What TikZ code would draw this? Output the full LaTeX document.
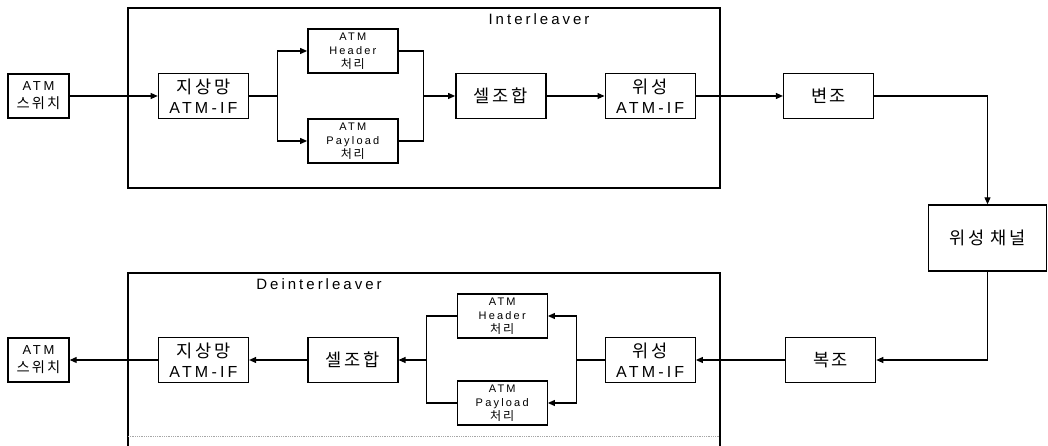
\documentclass[tikz,border=0pt]{standalone}
\usepackage{fontspec}
\usepackage{tikz}
\usetikzlibrary{arrows.meta,calc,positioning}
\setmainfont{Liberation Sans}[LetterSpace=20]
\newfontfamily\kr{Noto Sans CJK KR}[LetterSpace=15, Scale=1.1]
\newcommand{\hg}[1]{{\kr #1}}
\tikzset{
  >={Triangle[length=7pt, width=6pt]},
  flow/.style={->, line width=1.1pt, draw=black},
  wire/.style={line width=1.1pt, draw=black},
  bigbox/.style={
    draw=black,
    line width=1.4pt,
    minimum width=90pt,
    minimum height=45pt,
    align=center,
    inner sep=2pt,
    font=\fontsize{16}{20}\selectfont
  },
  smallbox/.style={bigbox, minimum height=44pt, font=\fontsize{11}{14}\selectfont},
  switchbox/.style={bigbox, minimum width=61pt, minimum height=44pt, font=\fontsize{13}{18}\selectfont},
  chanbox/.style={bigbox, minimum width=118pt, minimum height=66pt},
  frame/.style={line width=1.4pt, draw=black},
  frametitle/.style={font=\fontsize{15}{18}\selectfont}
}
\begin{document}
\begin{tikzpicture}[x=1pt, y=1pt]
  \useasboundingbox (0,0) rectangle (1048,446);

  \draw[frame] (128,438) rectangle (720,258);
  \node[frametitle] (intertitle) at (539,427) {Interleaver};
  \draw[frame] (128,0) |- (720,173) -- (720,0);
  \draw[line width=0.8pt, draw=black!35, densely dotted] (128,10) -- (720,10);
  \node[frametitle] (deintertitle) at (319,162) {Deinterleaver};

  \node[switchbox] (swtop) at (38.5,350) {ATM\\\hg{스위치}};
  \node[bigbox, right=88pt of swtop] (landtop) {\hg{지상망}\\ATM-IF};
  \node[smallbox, right=58pt of landtop, yshift=45pt] (hdrtop) {ATM\\Header\\\hg{처리}};
  \node[smallbox, right=58pt of landtop, yshift=-45pt] (pldtop) {ATM\\Payload\\\hg{처리}};
  \node[bigbox, right=206pt of landtop] (celltop) {\hg{셀조합}};
  \node[bigbox, right=58pt of celltop] (sattop) {\hg{위성}\\ATM-IF};
  \node[bigbox, right=87pt of sattop] (modtop) {\hg{변조}};
  \node[chanbox] (chan) at (987.5,208) {\hg{위성 채널}};

  \coordinate (splittop) at ($(landtop.east)+(28pt,0)$);
  \coordinate (mergetop) at ($(celltop.west)+(-32pt,0)$);
  \draw[flow] (swtop) -- (landtop);
  \draw[wire] (landtop) -- (splittop);
  \draw[flow] (splittop) |- (hdrtop);
  \draw[flow] (splittop) |- (pldtop);
  \draw[wire] (hdrtop) -| (mergetop);
  \draw[wire] (pldtop) -| (mergetop);
  \draw[flow] (mergetop) -- (celltop);
  \draw[flow] (celltop) -- (sattop);
  \draw[flow] (sattop) -- (modtop);
  \draw[flow] (modtop) -| (chan);

  \node[switchbox] (swbot) at (38.5,86) {ATM\\\hg{스위치}};
  \node[bigbox, right=88pt of swbot] (landbot) {\hg{지상망}\\ATM-IF};
  \node[bigbox, right=58pt of landbot] (cellbot) {\hg{셀조합}};
  \node[smallbox, right=58pt of cellbot, yshift=44pt] (hdrbot) {ATM\\Header\\\hg{처리}};
  \node[smallbox, right=58pt of cellbot, yshift=-43pt] (pldbot) {ATM\\Payload\\\hg{처리}};
  \node[bigbox, right=206pt of cellbot] (satbot) {\hg{위성}\\ATM-IF};
  \node[bigbox, right=89pt of satbot] (demod) {\hg{복조}};

  \coordinate (splitbot) at ($(satbot.west)+(-28pt,0)$);
  \coordinate (mergebot) at ($(cellbot.east)+(28pt,0)$);
  \draw[flow] (chan) |- (demod);
  \draw[flow] (demod) -- (satbot);
  \draw[wire] (satbot) -- (splitbot);
  \draw[flow] (splitbot) |- (hdrbot);
  \draw[flow] (splitbot) |- (pldbot);
  \draw[wire] (hdrbot) -| (mergebot);
  \draw[wire] (pldbot) -| (mergebot);
  \draw[flow] (mergebot) -- (cellbot);
  \draw[flow] (cellbot) -- (landbot);
  \draw[flow] (landbot) -- (swbot);
\end{tikzpicture}
\end{document}
